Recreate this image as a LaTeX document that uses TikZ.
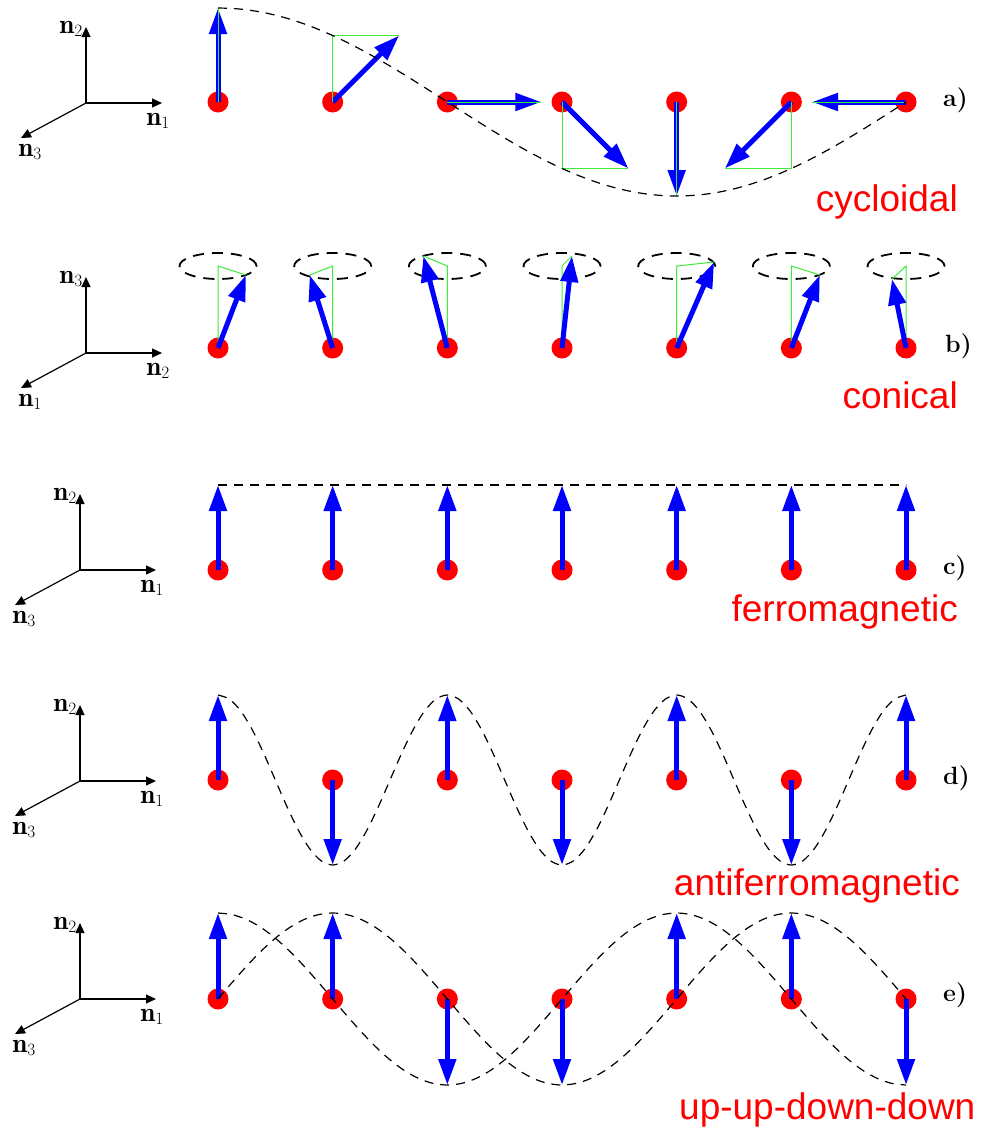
\documentclass[tikz,border=0pt]{standalone}
\usepackage{fontspec}
\newfontfamily\labelfont{Liberation Sans}
\usetikzlibrary{arrows.meta}
\definecolor{spinblue}{RGB}{0,0,255}
\definecolor{projgreen}{RGB}{60,235,60}
\begin{document}
\begin{tikzpicture}[x=1pt,y=-1pt,
		site/.style={circle,fill=red,inner sep=0pt,minimum size=21pt},
		spin/.style={draw=spinblue,line width=5pt,-{Triangle[length=26pt,width=17pt]}},
		proj/.style={draw=projgreen,line width=1pt},
		axis/.style={line width=1.2pt,-{Triangle[length=10pt,width=9pt]}},
		axlabel/.style={font=\fontsize{27}{30}\selectfont,inner sep=0pt},
		rowlabel/.style={font=\fontsize{25}{28}\selectfont\bfseries,inner sep=0pt,anchor=base west},
		phasename/.style={font=\labelfont\fontsize{37}{44}\selectfont,text=red,inner sep=0pt,anchor=base east},
		wave/.style={line width=1.2pt,dash pattern=on 9pt off 7pt},
		cone/.style={line width=1.8pt,dash pattern=on 11pt off 8pt}
		]
	\useasboundingbox (0,0) rectangle (986,1130);

	\foreach \r/\ox/\oy/\u/\h/\d in {A/86/103/2/1/3,B/86/353/3/2/1,C/80/570/2/1/3,D/80/781/2/1/3,E/80/999/2/1/3}{
		\coordinate (O\r) at (\ox,\oy);
		\coordinate (U\r) at ({\ox},{\oy-76});
		\coordinate (R\r) at ({\ox+76},{\oy});
		\coordinate (L\r) at ({\ox-65},{\oy+35});
		\draw[axis] (O\r) -- (U\r);
		\draw[axis] (O\r) -- (R\r);
		\draw[axis] (O\r) -- (L\r);
		\node[axlabel] (NU\r) at ({\ox-15},{\oy-74}) {$\mathbf{n}_\u$};
		\node[axlabel] (NR\r) at ({\ox+72},{\oy+18}) {$\mathbf{n}_\h$};
		\node[axlabel] (NL\r) at ({\ox-56},{\oy+49}) {$\mathbf{n}_\d$};
	}

	\foreach \i in {0,...,6}{
		\node[site] (A\i) at ({218+114.67*\i},102) {};
		\coordinate (PA\i) at ({218+114.67*\i},{102-94*cos(45*\i)});
		\coordinate (TA\i) at ({218+114.67*\i+94*sin(45*\i)},{102-94*cos(45*\i)});
		\draw[spin] (A\i.center) -- (TA\i);
		\draw[proj] (A\i.center) -- (PA\i) -- (TA\i);
	}
	\draw[wave] plot[smooth,domain=0:6,samples=49] ({218+114.67*\x},{102-94*cos(45*\x)});
	\node[rowlabel] (la) at (943,106) {a)};
	\node[phasename] (pa) at (958,211) {cycloidal};

	\foreach \i/\dx/\dy in {0/28/9,1/-23/9,2/-24/-10,3/10/-10,4/37.5/-4,5/28.5/9,6/-14/13}{
		\coordinate (CB\i) at ({218+114.67*\i},266);
		\coordinate (TB\i) at ({218+114.67*\i+\dx},{266+\dy});
		\node[site] (B\i) at ({218+114.67*\i},348) {};
		\draw[cone] (CB\i) ellipse [x radius=38.5pt,y radius=13pt];
		\draw[proj] (B\i.center) -- (CB\i) -- (TB\i);
		\draw[spin] (B\i.center) -- (TB\i);
	}
	\node[rowlabel] (lb) at (945,352) {b)};
	\node[phasename] (pb) at (958,408) {conical};

	\foreach \i in {0,...,6}{
		\node[site] (C\i) at ({218+114.67*\i},570) {};
		\coordinate (TC\i) at ({218+114.67*\i},485);
		\draw[spin] (C\i.center) -- (TC\i);
	}
	\draw[wave] (TC0) -- (TC6);
	\node[rowlabel] (lc) at (943,574) {c)};
	\node[phasename] (pc) at (958,621) {ferromagnetic};

	\foreach \i/\s in {0/1,1/-1,2/1,3/-1,4/1,5/-1,6/1}{
		\node[site] (D\i) at ({218+114.67*\i},780) {};
		\coordinate (TD\i) at ({218+114.67*\i},{780-85*\s});
		\draw[spin] (D\i.center) -- (TD\i);
	}
	\draw[wave] plot[smooth,domain=0:6,samples=61] ({218+114.67*\x},{780-85*cos(180*\x)});
	\node[rowlabel] (ld) at (943,784) {d)};
	\node[phasename] (pd) at (960,895) {antiferromagnetic};

	\foreach \i/\s in {0/1,1/1,2/-1,3/-1,4/1,5/1,6/-1}{
		\node[site] (E\i) at ({218+114.67*\i},999) {};
		\coordinate (TE\i) at ({218+114.67*\i},{999-86*\s});
		\draw[spin] (E\i.center) -- (TE\i);
	}
	\draw[wave] plot[smooth,domain=0:6,samples=49] ({218+114.67*\x},{999-86*cos(90*\x)});
	\draw[wave] plot[smooth,domain=0:6,samples=49] ({218+114.67*\x},{999-86*sin(90*\x)});
	\node[rowlabel] (le) at (943,1001) {e)};
	\node[phasename,anchor=base west] (pe) at (679,1119) {up-up-down-down};
\end{tikzpicture}
\end{document}
